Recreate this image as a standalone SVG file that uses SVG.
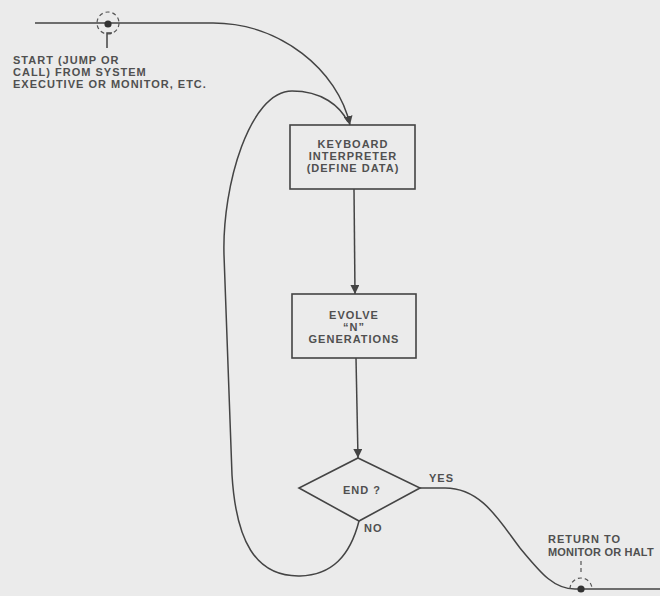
<svg xmlns="http://www.w3.org/2000/svg" width="660" height="596" viewBox="0 0 660 596">
  <style>
    .bg { fill: #ebebeb; }
    .box { fill: none; stroke: #444; stroke-width: 1.6; }
    .wire { fill: none; stroke: #444; stroke-width: 1.5; }
    .dash { fill: none; stroke: #555; stroke-width: 1.2; stroke-dasharray: 4 3; }
    .lbl { font-family: "Liberation Sans", Arial, sans-serif; font-size: 11px; font-weight: bold; fill: #505050; letter-spacing: 1px; }
    .mid { text-anchor: middle; }
  </style>
  <defs>
    <marker id="arrow" viewBox="0 0 10 10" refX="10" refY="5" markerWidth="9" markerHeight="9" markerUnits="userSpaceOnUse" orient="auto">
      <path d="M0,0 L10,5 L0,10 Z" fill="#444"/>
    </marker>
  </defs>
  <rect class="bg" x="0" y="0" width="660" height="596"/>

  <!-- connectors -->
  <g id="connectors">
    <!-- entry line from the system executive -->
    <path class="wire" d="M35,23 L213,23 C 280,23 338,70 350,125" marker-end="url(#arrow)"/>
    <!-- keyboard interpreter to evolve -->
    <path class="wire" d="M354,189 L355,294" marker-end="url(#arrow)"/>
    <!-- evolve to decision -->
    <path class="wire" d="M356,358 L358,458" marker-end="url(#arrow)"/>
    <!-- NO branch loops back to the interpreter -->
    <path class="wire" d="M359,521 C 350,556 332,575 300,576 C 255,577 236,540 232,475 L 224,255 C 222,185 250,91 292,91 C 322,91 340,106 348,122"/>
    <!-- YES branch to exit -->
    <path class="wire" d="M420,488 L445,488 C 482,488 500,522 520,548 C 540,572 553,589 575,589 L660,589"/>
  </g>

  <!-- entry point marker -->
  <g id="start">
    <circle class="dash" cx="108" cy="23" r="11"/>
    <circle cx="108" cy="24" r="3.6" fill="#333"/>
    <path class="wire" d="M107,48 L107,33 L112,33" stroke-width="1.2"/>
    <text class="lbl" x="13" y="64">START (JUMP OR</text>
    <text class="lbl" x="13" y="76">CALL) FROM SYSTEM</text>
    <text class="lbl" x="13" y="88">EXECUTIVE OR MONITOR, ETC.</text>
  </g>

  <g id="keyboard">
    <rect class="box" x="290" y="125" width="125" height="64"/>
    <text class="lbl mid" x="353" y="148">KEYBOARD</text>
    <text class="lbl mid" x="353" y="160">INTERPRETER</text>
    <text class="lbl mid" x="353" y="172">(DEFINE DATA)</text>
  </g>

  <g id="evolve">
    <rect class="box" x="292" y="294" width="124" height="64"/>
    <text class="lbl mid" x="354" y="319">EVOLVE</text>
    <text class="lbl mid" x="354" y="331">“N”</text>
    <text class="lbl mid" x="354" y="343">GENERATIONS</text>
  </g>

  <g id="end">
    <path class="box" d="M358,458 L420,488 L359,521 L299,488 Z"/>
    <text class="lbl mid" x="362" y="494">END ?</text>
    <text class="lbl" x="429" y="482">YES</text>
    <text class="lbl" x="364" y="532">NO</text>
  </g>

  <!-- exit point marker -->
  <g id="return">
    <path class="dash" d="M570,589 A 11 11 0 0 1 592,589"/>
    <circle cx="581" cy="589" r="3.6" fill="#333"/>
    <path class="dash" d="M581,561 L581,573" stroke-dasharray="3 2"/>
    <text class="lbl" x="548" y="543">RETURN TO</text>
    <text class="lbl" x="548" y="556" style="letter-spacing:0.2px">MONITOR OR HALT</text>
  </g>
</svg>
